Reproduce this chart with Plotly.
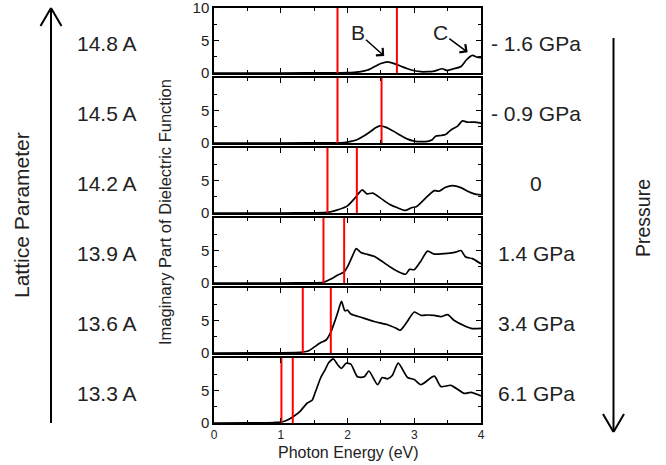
import plotly.graph_objects as go

# ---------------- data ----------------
lattice_labels = ["14.8 A", "14.5 A", "14.2 A", "13.9 A", "13.6 A", "13.3 A"]
pressure_labels = ["- 1.6 GPa", "- 0.9 GPa", "0", "1.4 GPa", "3.4 GPa", "6.1 GPa"]

E1 = [0, 1.0, 1.8, 2.0, 2.1, 2.2, 2.3, 2.4, 2.5, 2.6, 2.7, 2.8, 2.9, 3.0, 3.1, 3.2, 3.3, 3.42, 3.49, 3.59, 3.7, 3.78, 3.87, 3.94, 4.0]
Y1 = [0, 0, 0.02, 0.05, 0.1, 0.2, 0.45, 0.95, 1.45, 1.7, 1.45, 1.05, 0.65, 0.35, 0.2, 0.2, 0.3, 0.65, 0.4, 0.65, 1.0, 2.0, 2.7, 2.45, 2.35]

E2 = [0, 1.0, 1.8, 1.95, 2.05, 2.15, 2.25, 2.35, 2.42, 2.49, 2.58, 2.7, 2.8, 2.9, 3.0, 3.1, 3.2, 3.27, 3.32, 3.4, 3.47, 3.55, 3.65, 3.72, 3.8, 3.9, 4.0]
Y2 = [0, 0, 0.03, 0.08, 0.25, 0.55, 1.1, 1.8, 2.35, 2.65, 2.4, 1.75, 1.15, 0.6, 0.3, 0.2, 0.25, 0.5, 1.05, 1.15, 1.3, 2.0, 2.6, 3.4, 3.2, 3.2, 3.05]

E3 = [0, 1.0, 1.5, 1.7, 1.84, 2.0, 2.12, 2.22, 2.29, 2.38, 2.5, 2.62, 2.75, 2.87, 2.97, 3.03, 3.17, 3.3, 3.37, 3.47, 3.57, 3.7, 3.8, 3.9, 4.0]
Y3 = [0, 0, 0.03, 0.1, 0.45, 1.1, 2.4, 3.55, 2.95, 3.05, 2.25, 1.4, 0.8, 0.4, 0.85, 0.95, 2.3, 3.45, 3.35, 3.95, 4.2, 3.9, 3.35, 2.95, 2.8]

E4 = [0, 1.0, 1.5, 1.64, 1.75, 1.85, 1.95, 2.02, 2.08, 2.13, 2.2, 2.3, 2.4, 2.5, 2.62, 2.75, 2.87, 2.93, 3.0, 3.1, 3.2, 3.3, 3.5, 3.62, 3.7, 3.77, 3.87, 4.0]
Y4 = [0, 0, 0.03, 0.1, 0.6, 1.2, 1.7, 2.9, 4.3, 5.3, 4.7, 4.4, 4.1, 3.45, 2.6, 1.8, 1.35, 2.1, 2.05, 3.4, 4.9, 4.45, 4.55, 4.75, 5.0, 4.0, 3.75, 2.95]

E5 = [0, 1.0, 1.33, 1.42, 1.5, 1.6, 1.68, 1.75, 1.8, 1.85, 1.91, 1.96, 2.0, 2.05, 2.2, 2.4, 2.6, 2.72, 2.79, 2.88, 3.0, 3.1, 3.2, 3.3, 3.4, 3.5, 3.6, 3.75, 3.87, 4.0]
Y5 = [0, 0.03, 0.15, 0.35, 0.9, 1.6, 2.0, 3.2, 4.6, 6.1, 7.95, 6.5, 6.6, 6.0, 5.5, 4.85, 4.35, 3.85, 3.5, 4.6, 6.3, 5.8, 5.85, 5.8, 5.6, 5.9, 5.0, 4.2, 3.75, 3.8]

E6 = [0, 0.5, 0.9, 1.01, 1.1, 1.19, 1.29, 1.39, 1.47, 1.52, 1.6, 1.67, 1.72, 1.79, 1.85, 1.91, 1.98, 2.05, 2.15, 2.25, 2.32, 2.45, 2.52, 2.6, 2.67, 2.76, 2.9, 3.0, 3.1, 3.3, 3.4, 3.55, 3.75, 3.85, 4.0]
Y6 = [0, 0.02, 0.08, 0.15, 0.45, 1.0, 1.8, 3.0, 3.5, 4.8, 7.0, 8.3, 9.3, 9.85, 9.0, 8.4, 9.2, 9.05, 7.1, 7.1, 8.0, 5.9, 7.0, 6.8, 7.3, 9.2, 7.0, 6.7, 5.9, 7.2, 5.6, 5.8, 4.55, 4.7, 4.15]

energies = [E1, E2, E3, E4, E5, E6]
spectra = [Y1, Y2, Y3, Y4, Y5, Y6]

# red reference lines (eV) for each panel
red_lines = [[1.85, 2.74], [1.85, 2.51], [1.70, 2.14], [1.64, 1.95], [1.33, 1.75], [1.01, 1.18]]

# ---------------- layout helpers ----------------
W, H = 666, 465
L, R, T, B = 214, 185, 8, 42
PW, PH = W - L - R, H - T - B
n = 6
gap = 5.0
ph = (PH - gap * (n - 1)) / n
FONT = "Liberation Sans, Arial, Helvetica, sans-serif"


def px_to_paper(px, py):
    return (px - L) / PW, (H - B - py) / PH


fig = go.Figure()
annotations = []
shapes = []

for i in range(n):
    k = i + 1
    xa = "x" if k == 1 else f"x{k}"
    ya = "y" if k == 1 else f"y{k}"
    top_px = T + i * (ph + gap)
    bot_px = top_px + ph
    d0 = (H - B - bot_px) / PH
    d1 = (H - B - top_px) / PH

    fig.add_trace(go.Scatter(x=energies[i], y=spectra[i], mode="lines",
                             line=dict(color="black", width=1.7, shape="spline", smoothing=0.6),
                             xaxis=xa, yaxis=ya, showlegend=False, hoverinfo="skip"))
    for e in red_lines[i]:
        fig.add_trace(go.Scatter(x=[e, e], y=[0, 10], mode="lines",
                                 line=dict(color="#ff0000", width=2),
                                 xaxis=xa, yaxis=ya, showlegend=False, hoverinfo="skip"))

    xkey = "xaxis" if k == 1 else f"xaxis{k}"
    ykey = "yaxis" if k == 1 else f"yaxis{k}"
    fig.layout[xkey] = dict(
        range=[0, 4], domain=[0, 1], anchor=ya, automargin=False,
        showline=True, linecolor="black", linewidth=1.5, mirror="ticks",
        ticks="inside", ticklen=5, tickwidth=1, tickcolor="black",
        tickvals=[0, 1, 2, 3, 4], showticklabels=(k == n),
        minor=dict(ticks="inside", ticklen=3, tickwidth=1, tickcolor="black", dtick=0.5, showgrid=False),
        showgrid=False, zeroline=False, ticklabeloverflow="allow",
        tickfont=dict(family=FONT, size=12, color="#222"),
        **({} if k == 1 else {"matches": "x"}),
    )
    ytext = ["0", "5", "10"] if k == 1 else ["0", "5", ""]
    fig.layout[ykey] = dict(
        range=[0, 10], domain=[d0, d1], anchor=xa, automargin=False,
        showline=True, linecolor="black", linewidth=1.5, mirror="ticks",
        ticks="inside", ticklen=5, tickwidth=1, tickcolor="black",
        tickvals=[0, 5, 10], ticktext=ytext, ticklabeloverflow="allow",
        minor=dict(ticks="inside", ticklen=3, tickwidth=1, tickcolor="black", tickvals=[2.5, 7.5], showgrid=False),
        showgrid=False, zeroline=False,
        tickfont=dict(family=FONT, size=15, color="#222"),
    )

    yc = (d0 + d1) / 2
    annotations.append(dict(text=lattice_labels[i], xref="paper", yref="paper",
                            x=(107 - L) / PW, y=yc, yshift=-3, showarrow=False,
                            xanchor="center", yanchor="middle",
                            font=dict(family=FONT, size=21, color="#222")))
    annotations.append(dict(text=pressure_labels[i], xref="paper", yref="paper",
                            x=(536 - L) / PW, y=yc, yshift=-3, showarrow=False,
                            xanchor="center", yanchor="middle",
                            font=dict(family=FONT, size=21, color="#222")))

# B and C labels in top panel
for lab, tx, ty, hx, hy in [("B", 2.15, 6.3, 2.55, 2.6), ("C", 3.39, 6.3, 3.8, 3.2)]:
    annotations.append(dict(text=lab, x=hx, y=hy, ax=tx, ay=ty, xref="x", yref="y",
                            axref="x", ayref="y", showarrow=True, arrowhead=4,
                            arrowsize=1.3, arrowwidth=1.5, arrowcolor="black",
                            font=dict(family=FONT, size=21, color="#222")))

# axis titles
annotations.append(dict(text="Photon Energy (eV)", xref="paper", yref="paper",
                        x=(348 - L) / PW, y=px_to_paper(0, 452)[1], showarrow=False,
                        xanchor="center", yanchor="middle",
                        font=dict(family=FONT, size=16, color="#222")))
annotations.append(dict(text="Imaginary Part of Dielectric Function", xref="paper", yref="paper",
                        x=(165 - L) / PW, y=px_to_paper(0, 212)[1], showarrow=False, textangle=-90,
                        xanchor="center", yanchor="middle",
                        font=dict(family=FONT, size=16.5, color="#222")))
annotations.append(dict(text="Lattice Parameter", xref="paper", yref="paper",
                        x=(22 - L) / PW, y=px_to_paper(0, 215)[1], showarrow=False, textangle=-90,
                        xanchor="center", yanchor="middle",
                        font=dict(family=FONT, size=21, color="#222")))
annotations.append(dict(text="Pressure", xref="paper", yref="paper",
                        x=(643 - L) / PW, y=px_to_paper(0, 218)[1], showarrow=False, textangle=-90,
                        xanchor="center", yanchor="middle",
                        font=dict(family=FONT, size=19.5, color="#222")))

# big arrows (decorations, in paper coordinates)
def pline(x0, y0, x1, y1):
    a0, b0 = px_to_paper(x0, y0)
    a1, b1 = px_to_paper(x1, y1)
    return dict(type="line", xref="paper", yref="paper", x0=a0, y0=b0, x1=a1, y1=b1,
                line=dict(color="black", width=2))

shapes += [pline(51, 423, 51, 8), pline(40.5, 26, 51, 8), pline(61.5, 26, 51, 8)]
shapes += [pline(613.5, 38, 613.5, 432), pline(603, 414, 613.5, 432), pline(624, 414, 613.5, 432)]

fig.update_layout(width=W, height=H, margin=dict(l=L, r=R, t=T, b=B, autoexpand=False),
                  paper_bgcolor="white", plot_bgcolor="white",
                  annotations=annotations, shapes=shapes, showlegend=False,
                  font=dict(family=FONT, color="#222"))

fig.write_html("out.html", config={"displayModeBar": False},
               post_script="document.body.style.margin='0';")
